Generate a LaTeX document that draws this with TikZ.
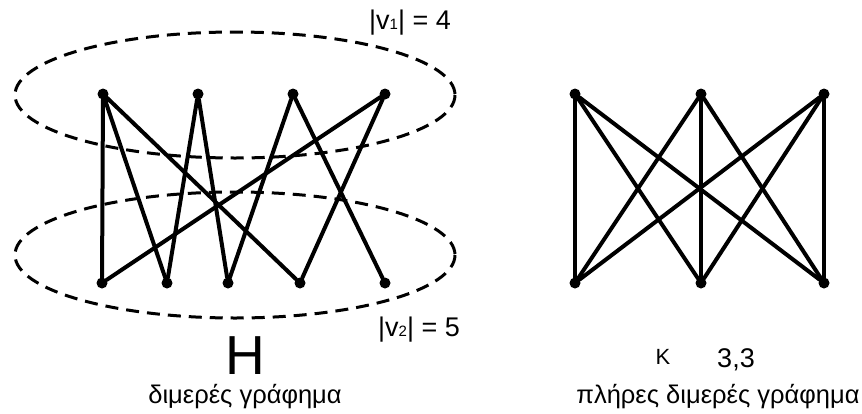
\documentclass[tikz,border=0pt]{standalone}
\usepackage{fontspec}
\setmainfont{Liberation Sans}
\usetikzlibrary{calc}
\tikzset{vtx/.style={circle, fill, inner sep=0pt, minimum size=11pt},
  edge/.style={line width=4pt, line cap=round},
  part/.style={line width=3pt, dash pattern=on 13pt off 8pt},
  lbl/.style={inner sep=0pt, font=\fontsize{27}{30}\selectfont},
  capt/.style={inner sep=0pt, font=\fontsize{25.5}{28}\selectfont}}

\begin{document}
\begin{tikzpicture}[x=1pt, y=-1pt]
  \useasboundingbox (0,0) rectangle (862,413);
  % the two vertex sets of H
  \draw[part] (235,95) ellipse [x radius=220, y radius=63];
  \draw[part] (235,255) ellipse [x radius=220, y radius=63];
  % H: upper and lower vertices
  \node[vtx] (a1) at (103,94) {};
  \node[vtx] (a2) at (198,94) {};
  \node[vtx] (a3) at (293,94) {};
  \node[vtx] (a4) at (385,94) {};
  \node[vtx] (b1) at (102,283) {};
  \node[vtx] (b2) at (167,283) {};
  \node[vtx] (b3) at (228,283) {};
  \node[vtx] (b4) at (300,283) {};
  \node[vtx] (b5) at (385,283) {};
  \draw[edge] (a1) -- (b1) (a1) -- (b2) (a1) -- (b4);
  \draw[edge] (a2) -- (b2) (a2) -- (b3);
  \draw[edge] (a3) -- (b3) (a3) -- (b5);
  \draw[edge] (a4) -- (b1) (a4) -- (b4);
  % K_{3,3}
  \node[vtx] (u1) at (575,94) {};
  \node[vtx] (u2) at (701,94) {};
  \node[vtx] (u3) at (824,94) {};
  \node[vtx] (w1) at (575,283) {};
  \node[vtx] (w2) at (701,283) {};
  \node[vtx] (w3) at (824,283) {};
  \foreach \u in {u1,u2,u3}
    \foreach \w in {w1,w2,w3}
      \draw[edge] (\u) -- (\w);
  % labels
  \node[lbl] (n1) at (410,23) {|v{\fontsize{15}{15}\selectfont 1}| = 4};
  \node[lbl] (n2) at (419,330) {|v{\fontsize{15}{15}\selectfont 2}| = 5};
  \node[inner sep=0pt, font=\fontsize{55}{58}\selectfont] (hname) at (245,356) {H};
  \node[capt] (hcap) at (245,397) {διμερές γράφημα};
  \node[inner sep=0pt, font=\fontsize{22}{22}\selectfont] (kname) at (663,357) {K};
  \node[inner sep=0pt, font=\fontsize{27}{28}\selectfont] (kidx) at (736,360) {3,3};
  \node[capt] (kcap) at (718,397) {πλήρες διμερές γράφημα};
\end{tikzpicture}
\end{document}
